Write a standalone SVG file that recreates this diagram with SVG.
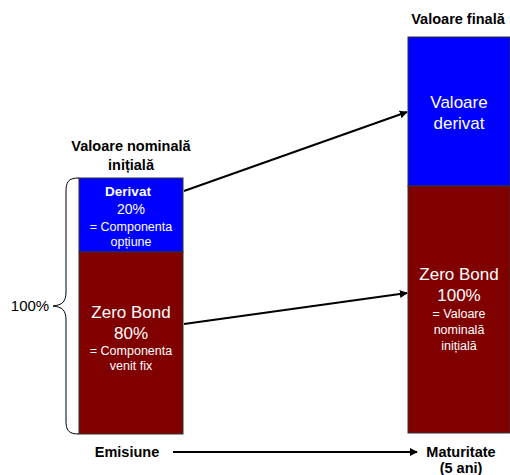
<svg xmlns="http://www.w3.org/2000/svg" width="510" height="475" viewBox="0 0 510 475">
<style>
text{font-family:"Liberation Sans",Arial,sans-serif;text-anchor:middle}
.hd{font-weight:bold;font-size:14.5px;fill:#000}
.w{fill:#fff}
.big{font-size:17px}
.mid{font-size:14px}
.sm{font-size:12.5px}
.blue{fill:#0000ff;stroke:#333;stroke-width:1}
.red{fill:#800000;stroke:#333;stroke-width:1}
.conn{stroke:#000;stroke-width:2;fill:none}
</style>
<defs>
<marker id="ah" viewBox="0 0 10 10" refX="9" refY="5" markerWidth="4" markerHeight="4" orient="auto" markerUnits="strokeWidth">
<path d="M0,0 L10,5 L0,10 z" fill="#000"/>
</marker>
</defs>
<rect width="510" height="475" fill="#fff"/>
<g id="left-title">
<text class="hd" x="131" y="151">Valoare nominală</text>
<text class="hd" x="131" y="170">inițială</text>
</g>
<g id="left-derivat">
<rect class="blue" x="79" y="178" width="104" height="74"/>
<text class="w" x="128" y="196" font-weight="bold" font-size="13.5px">Derivat</text>
<text class="w mid" x="131" y="214">20%</text>
<text class="w sm" x="131" y="231">= Componenta</text>
<text class="w sm" x="131" y="246">opțiune</text>
</g>
<g id="left-zerobond">
<rect class="red" x="79" y="252" width="104" height="182"/>
<text class="w big" x="131" y="318">Zero Bond</text>
<text class="w big" x="131" y="339">80%</text>
<text class="w sm" x="131" y="355">= Componenta</text>
<text class="w sm" x="131" y="370">venit fix</text>
</g>
<g id="brace">
<path d="M79,178 C68,178 66,182 66,192 L66,292 C66,302 62,305 53,306 C62,307 66,310 66,320 L66,420 C66,430 68,434 79,434" fill="none" stroke="#000" stroke-width="1"/>
<text x="30" y="311" style="font-size:15px" fill="#000">100%</text>
</g>
<g id="right-title">
<text class="hd" x="458" y="24">Valoare finală</text>
</g>
<g id="right-derivat">
<rect class="blue" x="408" y="37" width="102" height="149"/>
<text class="w big" x="459" y="108">Valoare</text>
<text class="w big" x="459" y="129">derivat</text>
</g>
<g id="right-zerobond">
<rect class="red" x="408" y="186" width="102" height="247"/>
<text class="w big" x="459" y="280">Zero Bond</text>
<text class="w big" x="459" y="301">100%</text>
<text class="w sm" x="459" y="318">= Valoare</text>
<text class="w sm" x="459" y="334">nominală</text>
<text class="w sm" x="459" y="350">inițială</text>
</g>
<g id="emisiune">
<text class="hd" x="127" y="457">Emisiune</text>
</g>
<g id="maturitate">
<text class="hd" x="461" y="457">Maturitate</text>
<text class="hd" x="461" y="473">(5 ani)</text>
</g>
<g id="connectors">
<line class="conn" x1="184" y1="191" x2="407" y2="112" marker-end="url(#ah)"/>
<line class="conn" x1="184" y1="324" x2="407" y2="293" marker-end="url(#ah)"/>
<line class="conn" x1="173" y1="452" x2="417" y2="452" stroke-width="1.5" marker-end="url(#ah)"/>
</g>
</svg>
